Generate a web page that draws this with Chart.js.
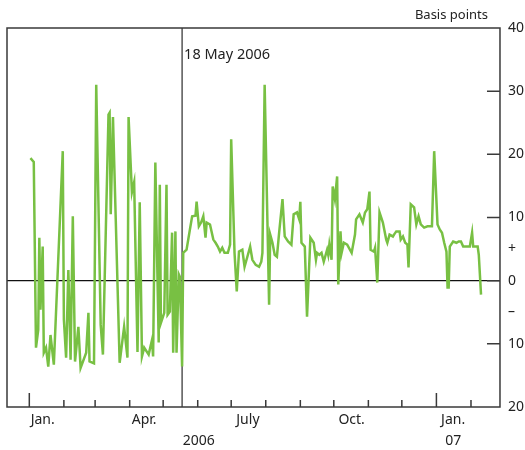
<!DOCTYPE html>
<html><head><meta charset="utf-8">
<script src="https://cdn.jsdelivr.net/npm/chart.js@4"></script>
<style>html,body{margin:0;padding:0;background:#fff}#wrap{width:525px;height:450px}</style>
</head><body><div id="wrap"><canvas id="c" width="525" height="450"></canvas></div>
<script>
// days since 1 January 2006
const days = [1,4,6,8,9,10,12,13,15,17,
19,22,30,31,33,35,37,39,41,44,
46,51,53,54,58,60,64,66,71,72,
73,75,81,85,88,89,92,94,97,99,
101,103,107,110,111,113,116,117,118,121,
123,124,126,128,129,131,132,134,135,137,
138,141,144,146,149,150,152,154,156,158,
159,162,165,167,169,171,173,175,178,180,
181,184,186,188,191,193,196,198,200,203,
206,208,209,211,215,216,218,220,222,224,
227,229,232,235,237,240,242,243,244,247,
249,252,255,257,258,260,262,264,267,268,
269,271,272,274,276,277,279,280,282,285,
289,292,293,296,299,301,303,305,306,309,
310,312,314,317,320,321,323,326,327,329,
332,333,335,337,339,340,342,345,347,349,
351,354,357,361,363,366,368,370,372,374,
375,376,377,380,383,385,387,389,395,397,
398,402,403,405];
// basis points
const spread = [19.4,18.8,-10.6,-7.8,6.8,-4.6,5.4,-11.4,-10.6,-13.6,
-8.6,-13.3,20.5,-6.2,-12.2,1.7,-12.5,10.2,-12.8,-7.3,
-13.8,-11.4,-5.1,-12.8,-13.1,31.0,-7.0,-11.7,26.3,26.6,
10.5,25.9,-13.0,-7.3,-12.2,25.9,14.0,15.6,-11.3,12.4,
-12.0,-10.6,-11.7,-9.4,-12.0,18.7,-9.8,15.2,-6.7,-5.1,
15.2,-5.4,-4.9,7.6,-11.4,7.8,-11.4,1.0,0.6,-13.6,
4.4,4.9,8.1,10.2,10.3,12.5,8.6,9.2,10.2,6.8,
9.2,8.9,6.5,6.0,5.4,4.6,5.2,4.4,4.4,5.7,
22.4,4.4,-1.7,4.6,4.9,2.2,4.1,5.4,3.3,2.5,
2.2,3.0,4.4,31.0,-3.8,7.3,6.0,4.1,3.8,7.6,
12.9,7.0,6.2,5.7,10.5,10.8,9.7,12.5,6.0,5.4,
-5.7,6.8,6.0,3.3,4.4,4.1,4.4,3.0,4.9,4.1,
5.7,3.3,14.9,12.9,16.5,-0.6,7.8,4.4,6.0,5.7,
4.4,7.3,9.7,10.5,9.2,10.8,11.3,14.1,4.9,4.6,
5.2,-0.3,10.8,9.2,6.5,6.0,7.3,7.0,7.3,7.8,
7.8,6.5,7.0,6.0,5.7,2.1,12.1,11.6,8.9,10.2,
8.9,8.4,8.6,8.6,20.5,8.9,8.1,7.6,6.0,4.6,
-1.1,-1.1,5.4,6.2,6.0,6.2,6.2,5.4,5.4,7.6,
5.4,5.4,4.1,-2.2];

const monthStarts = [0,31,59,90,120,151,181,212,243,273,304,334,365,396];
const yearStarts = [0,365];
const labelDays = [12,103,152,196,289,380];
const labelText = ['Jan.','Apr.',['','2006'],'July','Oct.',['Jan.','07']];
const yTicks = [-20,-10,-5,0,5,10,20,30,40];
const yTickText = ['20','10','\u2013','0','+','10','20','30','40'];
const yMarkTicks = [-10,0,10,20,30];
const eventDay = 137;
const eventLabel = '18 May 2006';
const unitLabel = 'Basis points';

const FONT = '"Noto Sans", "Open Sans", sans-serif';

const framePlugin = {
  id: 'frame',
  beforeDatasetsDraw(chart) {
    const {ctx, chartArea: a, scales: {x, y}} = chart;
    ctx.save();
    const ex = x.getPixelForValue(eventDay);
    ctx.strokeStyle = '#555'; ctx.lineWidth = 1.5;
    ctx.beginPath(); ctx.moveTo(ex, a.top); ctx.lineTo(ex, a.bottom); ctx.stroke();
    ctx.strokeStyle = '#3a3a3a'; ctx.lineWidth = 1.5;
    ctx.strokeRect(a.left, a.top, a.right - a.left, a.bottom - a.top);
    ctx.beginPath();
    monthStarts.forEach(d => {
      const px = x.getPixelForValue(d);
      const len = yearStarts.includes(d) ? 14 : 7;
      ctx.moveTo(px, a.bottom); ctx.lineTo(px, a.bottom - len);
    });
    yMarkTicks.forEach(v => {
      const py = y.getPixelForValue(v);
      ctx.moveTo(a.right, py); ctx.lineTo(a.right - 13, py);
    });
    ctx.stroke();
    ctx.fillStyle = '#222'; ctx.textBaseline = 'middle';
    ctx.font = '14.5px ' + FONT;
    ctx.textAlign = 'left'; ctx.fillText(eventLabel, ex + 2, a.top + 27);
    ctx.font = '13px ' + FONT;
    ctx.textAlign = 'right'; ctx.fillText(unitLabel, a.right - 12, a.top - 13);
    ctx.restore();
  }
};

new Chart(document.getElementById('c'), {
  type: 'line',
  data: {
    datasets: [{
      data: days.map((d, i) => ({x: d, y: spread[i]})),
      borderColor: '#78c043',
      borderWidth: 2.5,
      pointRadius: 0,
      tension: 0,
      fill: false
    }]
  },
  options: {
    responsive: false,
    animation: false,
    devicePixelRatio: 1,
    layout: {padding: {left: 7, right: -7, top: 28, bottom: -5}},
    plugins: {legend: {display: false}, tooltip: {enabled: false}},
    scales: {
      x: {
        type: 'linear', min: -20, max: 422,
        afterBuildTicks: s => { s.ticks = labelDays.map(v => ({value: v})); },
        ticks: {
          autoSkip: false, maxRotation: 0, padding: 3,
          callback: (v, i) => labelText[i],
          font: {family: FONT, size: 14, lineHeight: 1.5}, color: '#222'
        },
        grid: {display: false, drawTicks: false},
        border: {display: false}
      },
      y: {
        position: 'right', min: -20, max: 40,
        afterBuildTicks: s => { s.ticks = yTicks.map(v => ({value: v})); },
        ticks: {
          autoSkip: false, padding: 8,
          callback: (v, i) => yTickText[i],
          font: {family: FONT, size: 14}, color: '#222'
        },
        grid: {drawTicks: false, lineWidth: 1.3,
          color: c => (c.tick && c.tick.value === 0) ? '#111' : 'rgba(0,0,0,0)'},
        border: {display: false}
      }
    }
  },
  plugins: [framePlugin]
});
</script></body></html>
